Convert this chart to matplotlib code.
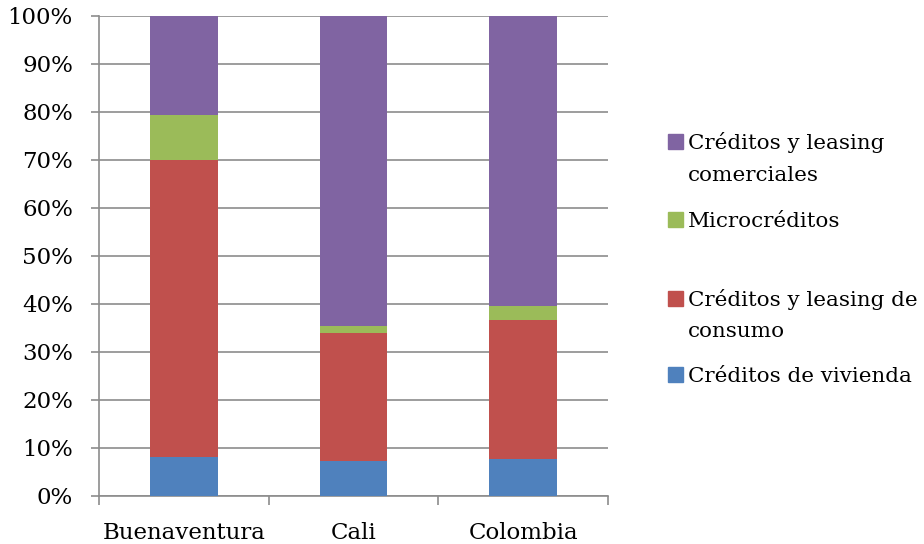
import matplotlib.pyplot as plt
from matplotlib.patches import Rectangle
import numpy as np

categories = ["Buenaventura", "Cali", "Colombia"]
vivienda = [8.1, 7.3, 7.8]
consumo = [62.0, 26.7, 28.9]
micro = [9.3, 1.35, 2.9]
comercial = [20.6, 64.65, 60.4]

series = [
    ("Créditos de vivienda", vivienda, "#4F81BD"),
    ("Créditos y leasing de\nconsumo", consumo, "#C0504D"),
    ("Microcréditos", micro, "#9BBB59"),
    ("Créditos y leasing\ncomerciales", comercial, "#8064A2"),
]

plt.rcParams["font.family"] = ["DejaVu Serif"]
grid_c = "#8c8c8c"
fs = 16.5

fig = plt.figure(figsize=(9.24, 5.44), dpi=100)
ax = fig.add_axes([99 / 924, 1 - 496 / 544, (608 - 99) / 924, (496 - 16) / 544])

x = np.arange(len(categories))
bottom = np.zeros(len(categories))
for name, vals, col in series:
    ax.bar(x, vals, 0.4, bottom=bottom, color=col, edgecolor="none", zorder=3)
    bottom += np.array(vals)

ax.set_xlim(-0.5, 2.5)
ax.set_ylim(0, 100)
ax.set_yticks(np.arange(0, 101, 10))
ax.set_yticklabels([f"{v}%" for v in range(0, 101, 10)], fontsize=fs)
ax.yaxis.grid(True, color=grid_c, linewidth=1.2, zorder=0)
ax.tick_params(axis="y", length=5.8, color=grid_c, width=1.2, pad=13)

ax.set_xticks(x)
ax.set_xticklabels(categories, fontsize=fs)
ax.tick_params(axis="x", which="major", length=0, pad=18.5)
ax.set_xticks([-0.5, 0.5, 1.5, 2.5], minor=True)
ax.tick_params(axis="x", which="minor", length=6.5, color=grid_c, width=1.2)

for s in ["top", "right"]:
    ax.spines[s].set_visible(False)
for s in ["left", "bottom"]:
    ax.spines[s].set_color(grid_c)
    ax.spines[s].set_linewidth(1.2)

# legend drawn by hand to follow the original's uneven spacing
# (series index, baselines of each text line in pixels)
legend_rows = [(3, [149, 181]), (2, [227]), (1, [306, 337]), (0, [382])]
for idx, baselines in legend_rows:
    name, _, col = series[idx]
    b0 = baselines[0]
    fig.patches.append(Rectangle((668 / 924, 1 - b0 / 544), 15 / 924, 15 / 544,
                                 transform=fig.transFigure, color=col))
    for line, b in zip(name.split("\n"), baselines):
        fig.text(688 / 924, 1 - b / 544, line, fontsize=15.4, va="baseline", ha="left")

fig.savefig("out.png", dpi=100)
